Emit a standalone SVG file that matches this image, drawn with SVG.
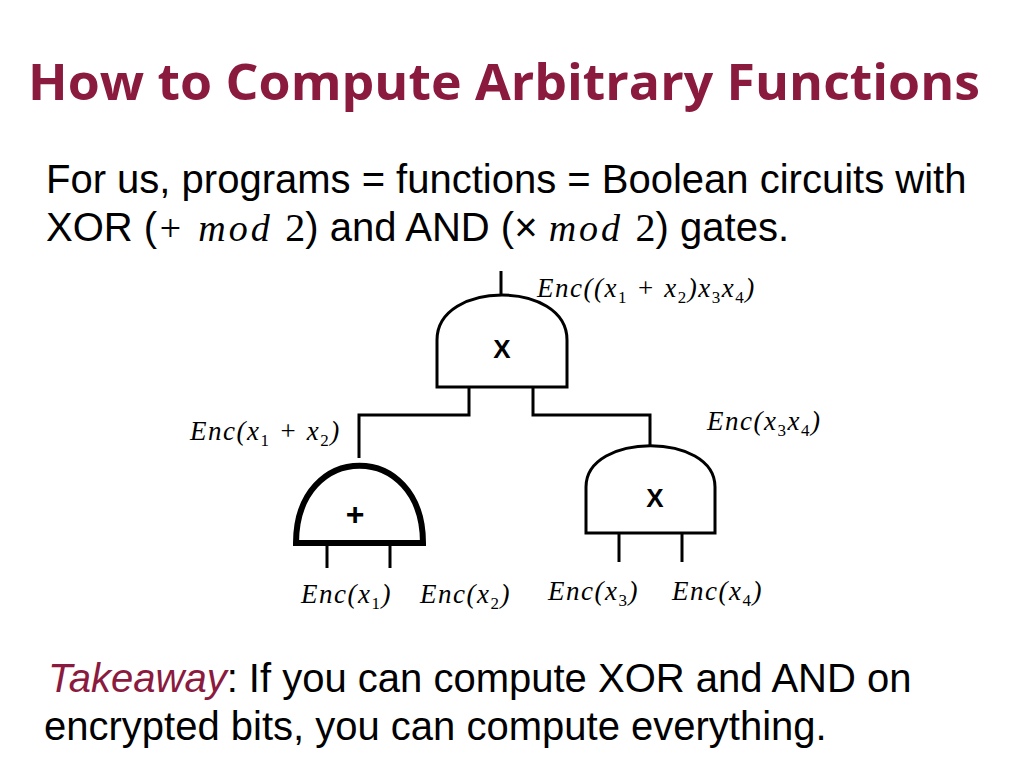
<svg xmlns="http://www.w3.org/2000/svg" width="1024" height="768" viewBox="0 0 1024 768">
<style>
.m{font-family:"Liberation Serif","DejaVu Serif",serif;font-style:italic;font-size:27px;letter-spacing:1.5px;fill:#000}
.s{font-size:17px;font-style:normal}
.b{font-family:"Liberation Sans",Arial,sans-serif;font-size:40px;fill:#000}
.mi{font-family:"Liberation Serif","DejaVu Serif",serif;font-style:italic;font-size:38px;letter-spacing:3px}
.g{fill:#fff;stroke:#000;stroke-width:3}
.w{stroke:#000;stroke-width:3;fill:none}
.lbl{font-family:"Liberation Sans",Arial,sans-serif;font-weight:bold;font-size:26px;text-anchor:middle}
</style>
<rect width="1024" height="768" fill="#fff"/>
<text x="504" y="100" text-anchor="middle" font-family="Open Sans,Lato,sans-serif" font-weight="bold" font-size="50" fill="#8b1a3f" textLength="952" lengthAdjust="spacingAndGlyphs">How to Compute Arbitrary Functions</text>
<text x="46" y="193" class="b">For us, programs = functions = Boolean circuits with</text>
<text x="46" y="241" class="b">XOR (<tspan class="mi">+ mod  </tspan><tspan font-family="Liberation Serif,serif">2</tspan>) and AND (×  <tspan class="mi">mod  </tspan><tspan font-family="Liberation Serif,serif">2</tspan>) gates.</text>
<g id="connectors">
<line class="w" x1="501" y1="271" x2="501" y2="305"/>
<polyline class="w" points="469,387 469,415 359,415 359,458"/>
<polyline class="w" points="533,387 533,415 650,415 650,450"/>
<line class="w" x1="327" y1="543" x2="327" y2="568"/>
<line class="w" x1="390" y1="543" x2="390" y2="568"/>
<line class="w" x1="619" y1="533" x2="619" y2="562"/>
<line class="w" x1="682" y1="533" x2="682" y2="562"/>
</g>
<g id="and-top">
<path class="g" d="M437,387 V340 C437,280 567,280 567,340 V387 Z"/>
<text x="502" y="358" class="lbl">X</text>
</g>
<g id="xor">
<path class="g" style="stroke-width:6" d="M296,543 C296,440 423,440 423,543 Z"/>
<text x="355" y="525" class="lbl" style="font-size:32px">+</text>
</g>
<g id="and-right">
<path class="g" d="M586,533 V487 C586,432 715,432 715,487 V533 Z"/>
<text x="655" y="507" class="lbl">X</text>
</g>
<g id="labels">
<text x="537" y="297" class="m">Enc((x<tspan class="s" dy="6">1</tspan><tspan dy="-6"> + x</tspan><tspan class="s" dy="6">2</tspan><tspan dy="-6">)x</tspan><tspan class="s" dy="6">3</tspan><tspan dy="-6">x</tspan><tspan class="s" dy="6">4</tspan><tspan dy="-6">)</tspan></text>
<text x="190" y="440" class="m">Enc(x<tspan class="s" dy="6">1</tspan><tspan dy="-6"> + x</tspan><tspan class="s" dy="6">2</tspan><tspan dy="-6">)</tspan></text>
<text x="707" y="430" class="m">Enc(x<tspan class="s" dy="6">3</tspan><tspan dy="-6">x</tspan><tspan class="s" dy="6">4</tspan><tspan dy="-6">)</tspan></text>
<text x="301" y="603" class="m">Enc(x<tspan class="s" dy="6">1</tspan><tspan dy="-6">)</tspan></text>
<text x="420" y="603" class="m">Enc(x<tspan class="s" dy="6">2</tspan><tspan dy="-6">)</tspan></text>
<text x="548" y="600" class="m">Enc(x<tspan class="s" dy="6">3</tspan><tspan dy="-6">)</tspan></text>
<text x="672" y="600" class="m">Enc(x<tspan class="s" dy="6">4</tspan><tspan dy="-6">)</tspan></text>
</g>
<text x="48" y="692" class="b"><tspan fill="#8b1a3f" font-style="italic">Takeaway</tspan>: If you can compute XOR and AND on</text>
<text x="44" y="740" class="b">encrypted bits, you can compute everything.</text>
</svg>
